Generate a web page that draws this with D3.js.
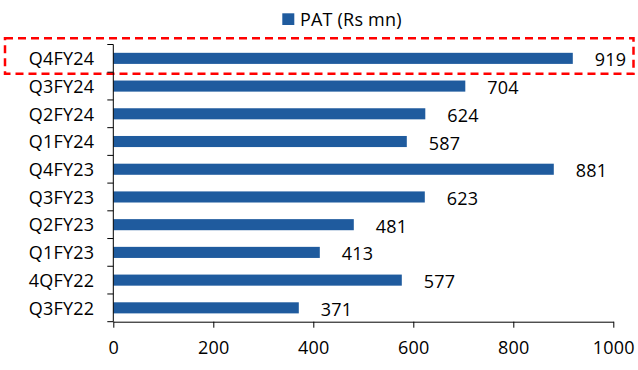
<!DOCTYPE html>
<html>
<head>
<meta charset="utf-8">
<script src="https://cdn.jsdelivr.net/npm/d3@7"></script>
<style>
  html, body { margin: 0; padding: 0; background: #fff; }
  svg { display: block; }
  text { font-family: "Open Sans", "Noto Sans", sans-serif; fill: #000; }
</style>
</head>
<body>
<svg id="chart" width="638" height="370"></svg>
<script>
// Quarterly profit after tax, newest quarter on top
const quarters = ["Q4FY24", "Q3FY24", "Q2FY24", "Q1FY24", "Q4FY23", "Q3FY23", "Q2FY23", "Q1FY23", "4QFY22", "Q3FY22"];
const patValues = [919, 704, 624, 587, 881, 623, 481, 413, 577, 371];
const xTickValues = [0, 200, 400, 600, 800, 1000];
const seriesName = "PAT (Rs mn)";
const highlighted = "Q4FY24";

const barColor = "#1f5b9e";
const fontSize = 18;
const spacing = 0.2;

const svg = d3.select("#chart");

const x = d3.scaleLinear().domain([0, 1000]).range([113.3, 613.3]);
const y = d3.scaleBand().domain(quarters).range([44.5, 321.7])
  .paddingInner(0.6).paddingOuter(0.3);

// Highlight frame around the latest quarter's row
const hy = y(highlighted) + y.bandwidth() / 2;
svg.append("rect")
  .attr("x", 5).attr("y", hy - 20)
  .attr("width", 628.5).attr("height", 35.5)
  .attr("fill", "none")
  .attr("stroke", "#ff0000")
  .attr("stroke-width", 2.5)
  .attr("stroke-dasharray", "8,5");

// Bars
svg.append("g").selectAll("rect")
  .data(quarters)
  .join("rect")
  .attr("x", x(0))
  .attr("y", d => y(d))
  .attr("width", (d, i) => x(patValues[i]) - x(0))
  .attr("height", y.bandwidth())
  .attr("fill", barColor);

// Value labels
svg.append("g").selectAll("text")
  .data(quarters)
  .join("text")
  .attr("x", (d, i) => x(patValues[i]) + 22)
  .attr("y", d => y(d) + y.bandwidth() / 2 + 8)
  .attr("font-size", fontSize)
  .attr("letter-spacing", spacing)
  .text((d, i) => patValues[i]);

// Category axis: line with ticks on the band boundaries
const yAxis = svg.append("g");
const yTop = y.range()[0], yBottom = y.range()[1];
const boundary = i => yTop + i * (yBottom - yTop) / quarters.length;
yAxis.append("line")
  .attr("x1", x(0)).attr("x2", x(0))
  .attr("y1", yTop).attr("y2", yBottom)
  .attr("stroke", "#000").attr("stroke-width", 1);
yAxis.selectAll("line.tick")
  .data(d3.range(quarters.length + 1))
  .join("line")
  .attr("class", "tick")
  .attr("x1", x(0) - 6).attr("x2", x(0))
  .attr("y1", boundary)
  .attr("y2", boundary)
  .attr("stroke", "#000").attr("stroke-width", 1);
yAxis.selectAll("text")
  .data(quarters)
  .join("text")
  .attr("x", x(0) - 19)
  .attr("y", d => y(d) + y.bandwidth() / 2 + 6.8)
  .attr("text-anchor", "end")
  .attr("font-size", fontSize)
  .attr("letter-spacing", spacing)
  .text(d => d);

// Value axis
const xAxis = svg.append("g")
  .attr("transform", `translate(0,${yBottom})`)
  .call(d3.axisBottom(x).tickValues(xTickValues).tickFormat(d3.format("d"))
    .tickSize(6).tickPadding(14).tickSizeOuter(0));
xAxis.select(".domain").attr("stroke", "#000");
xAxis.selectAll(".tick line").attr("stroke", "#000");
xAxis.selectAll(".tick text")
  .attr("font-size", fontSize)
  .attr("font-family", "\"Open Sans\", sans-serif")
  .attr("letter-spacing", spacing)
  .attr("fill", "#000");

// Legend
const legend = svg.append("g");
legend.append("rect")
  .attr("x", 282.3).attr("y", 13.3)
  .attr("width", 12).attr("height", 11.7)
  .attr("fill", barColor);
legend.append("text")
  .attr("x", 300).attr("y", 25.5)
  .attr("font-size", fontSize)
  .attr("letter-spacing", spacing)
  .text(seriesName);
</script>
</body>
</html>
